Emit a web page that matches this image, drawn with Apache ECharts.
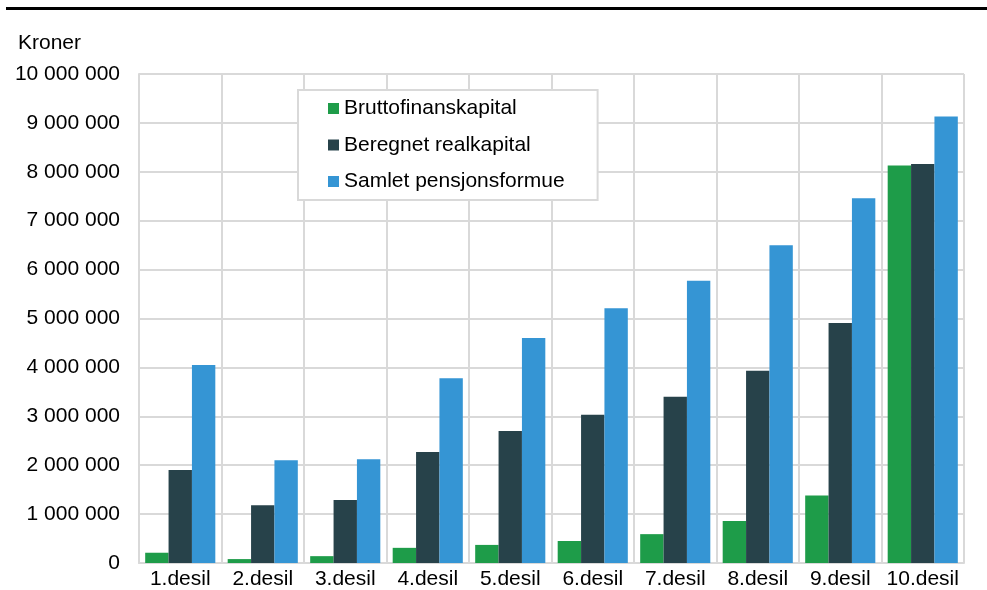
<!DOCTYPE html>
<html><head><meta charset="utf-8">
<script src="https://cdn.jsdelivr.net/npm/echarts@6/dist/echarts.min.js"></script>
<style>html,body{margin:0;padding:0;background:#fff}#c{width:987px;height:590px}</style>
</head><body><div id="c"></div>
<script>
const categories = ['1.desil','2.desil','3.desil','4.desil','5.desil','6.desil','7.desil','8.desil','9.desil','10.desil'];
const brutto = [210000, 80000, 140000, 310000, 370000, 450000, 590000, 860000, 1380000, 8130000];
const realkapital = [1900000, 1180000, 1290000, 2270000, 2700000, 3030000, 3400000, 3930000, 4910000, 8160000];
const pensjon = [4050000, 2100000, 2120000, 3780000, 4600000, 5210000, 5770000, 6500000, 7460000, 9130000];
const seriesNames = ['Bruttofinanskapital','Beregnet realkapital','Samlet pensjonsformue'];
const colors = ['#1e9c49','#27424a','#3595d4'];
const font = '"Liberation Sans", Arial, sans-serif';
const chart = echarts.init(document.getElementById('c'));
function fmt(v){return String(v).replace(/\B(?=(\d{3})+(?!\d))/g,' ');}
chart.setOption({
  animation:false,
  color: colors,
  graphic:[
    {type:'rect',shape:{x:6,y:7,width:981,height:3},style:{fill:'#000'}},
    {type:'text',left:18,top:33,style:{text:'Kroner',font:'21px '+font,fill:'#000'}}
  ],
  legend:{
    orient:'vertical',left:298,top:90,
    itemWidth:11,itemHeight:11,itemGap:15.5,
    padding:[8,33,8,30],
    borderColor:'#d9d9d9',borderWidth:2,backgroundColor:'#fff',
    textStyle:{fontFamily:font,fontSize:21,color:'#000'},
    icon:'rect',
    data:seriesNames
  },
  grid:{left:139,right:23,top:74,bottom:27},
  xAxis:{
    type:'category',data:categories,
    axisLine:{lineStyle:{color:'#d9d9d9',width:2}},
    axisTick:{show:false},
    splitLine:{show:true,lineStyle:{color:'#d9d9d9',width:2}},
    axisLabel:{fontFamily:font,fontSize:21,color:'#000',margin:6,interval:0}
  },
  yAxis:{
    type:'value',min:0,max:10000000,interval:1000000,
    axisLine:{show:true,lineStyle:{color:'#d9d9d9',width:2}},
    axisTick:{show:false},
    splitLine:{lineStyle:{color:'#d9d9d9',width:2}},
    axisLabel:{fontFamily:font,fontSize:21,color:'#000',margin:19,formatter:fmt}
  },
  series:[
    {name:seriesNames[0],type:'bar',data:brutto,barGap:'0%',barCategoryGap:'15%'},
    {name:seriesNames[1],type:'bar',data:realkapital,barGap:'0%',barCategoryGap:'15%'},
    {name:seriesNames[2],type:'bar',data:pensjon,barGap:'0%',barCategoryGap:'15%'}
  ]
});
</script></body></html>
